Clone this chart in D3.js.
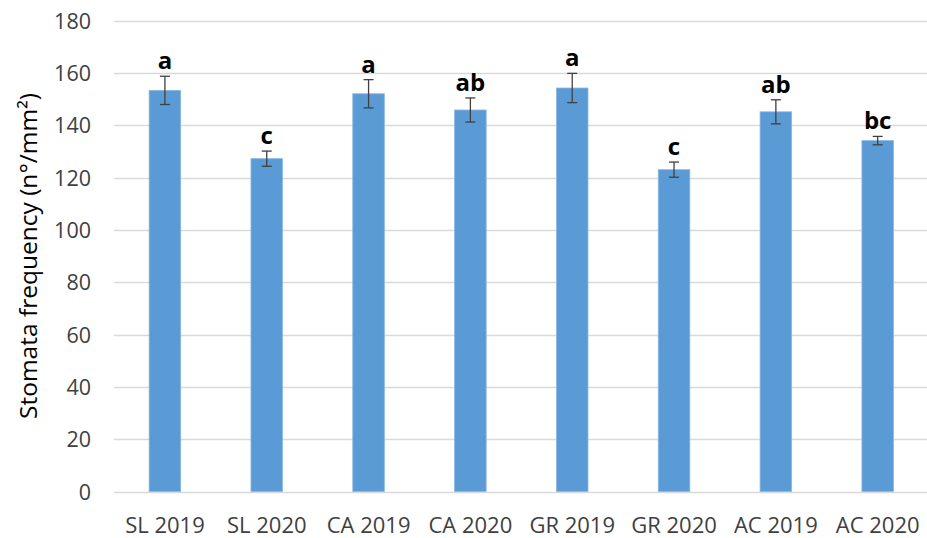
<!DOCTYPE html>
<html>
<head>
<meta charset="utf-8">
<script src="https://cdn.jsdelivr.net/npm/d3@7"></script>
<style>
  html, body { margin: 0; padding: 0; background: #fff; }
  svg { display: block; }
</style>
</head>
<body>
<svg id="chart" width="927" height="538"></svg>
<script>
// Stomata frequency per site and year, mean ± error, with significance letters
const categories = ["SL 2019", "SL 2020", "CA 2019", "CA 2020", "GR 2019", "GR 2020", "AC 2019", "AC 2020"];
const means      = [153.3, 127.2, 152.0, 145.8, 154.2, 123.0, 145.1, 134.1];
const errors     = [5.4, 2.9, 5.4, 4.6, 5.6, 2.9, 4.6, 1.6];
const letters    = ["a", "c", "a", "ab", "a", "c", "ab", "bc"];
const yTicks     = [0, 20, 40, 60, 80, 100, 120, 140, 160, 180];
const yTitle     = "Stomata frequency (n°/mm²)";

const svg = d3.select("#chart");
const plot = { left: 114, right: 928.6, top: 20.5, bottom: 491.5 };

const x = d3.scaleBand()
  .domain(categories)
  .range([plot.left, plot.right])
  .paddingInner(0.69)
  .paddingOuter(0.345);

const y = d3.scaleLinear()
  .domain([0, 180])
  .range([plot.bottom, plot.top]);

const font = "'Open Sans', 'Liberation Sans', sans-serif";

// horizontal gridlines
svg.append("g")
  .selectAll("line")
  .data(yTicks)
  .join("line")
  .attr("x1", plot.left)
  .attr("x2", 927)
  .attr("y1", d => Math.round(y(d)) + 0.5)
  .attr("y2", d => Math.round(y(d)) + 0.5)
  .attr("stroke", "#d9d9d9")
  .attr("stroke-width", 1.5);

// y tick labels
const yAxis = d3.axisLeft(y).tickValues(yTicks).tickSize(0).tickPadding(0);
const gy = svg.append("g")
  .attr("transform", `translate(${plot.left - 23},0)`)
  .call(yAxis);
gy.select(".domain").remove();
gy.selectAll("text")
  .attr("font-family", font)
  .attr("font-size", 21.5)
  .attr("fill", "#404040")
  .attr("dy", "0.36em");

// bars
svg.append("g")
  .selectAll("rect")
  .data(categories)
  .join("rect")
  .attr("x", d => x(d))
  .attr("width", x.bandwidth())
  .attr("y", (d, i) => y(means[i]))
  .attr("height", (d, i) => y(0) - y(means[i]))
  .attr("fill", "#5b9bd5")
  .attr("stroke", "#8ab8e3")
  .attr("stroke-width", 0.8);

// error bars
const eg = svg.append("g")
  .attr("stroke", "#404040")
  .attr("stroke-width", 1.3);
categories.forEach((c, i) => {
  const cx = x(c) + x.bandwidth() / 2;
  const yt = y(means[i] + errors[i]);
  const yb = y(means[i] - errors[i]);
  eg.append("line").attr("x1", cx).attr("x2", cx).attr("y1", yt).attr("y2", yb);
  eg.append("line").attr("x1", cx - 5).attr("x2", cx + 5).attr("y1", yt).attr("y2", yt);
  eg.append("line").attr("x1", cx - 5).attr("x2", cx + 5).attr("y1", yb).attr("y2", yb);
});

// significance letters
svg.append("g")
  .selectAll("text")
  .data(categories)
  .join("text")
  .attr("x", d => x(d) + x.bandwidth() / 2)
  .attr("y", (d, i) => y(means[i] + errors[i]) - 7)
  .attr("text-anchor", "middle")
  .attr("font-family", font)
  .attr("font-weight", "bold")
  .attr("font-size", 24)
  .attr("fill", "#000")
  .text((d, i) => letters[i]);

// x category labels
const xAxis = d3.axisBottom(x).tickSize(0).tickPadding(0);
const gx = svg.append("g")
  .attr("transform", `translate(0,${plot.bottom + 41})`)
  .call(xAxis);
gx.select(".domain").remove();
gx.selectAll("text")
  .attr("font-family", font)
  .attr("font-size", 22)
  .attr("fill", "#404040")
  .attr("dy", 0);

// y axis title
svg.append("text")
  .attr("transform", `translate(37,256) rotate(-90)`)
  .attr("text-anchor", "middle")
  .attr("font-family", font)
  .attr("font-size", 24.5)
  .attr("fill", "#000")
  .text(yTitle);
</script>
</body>
</html>
